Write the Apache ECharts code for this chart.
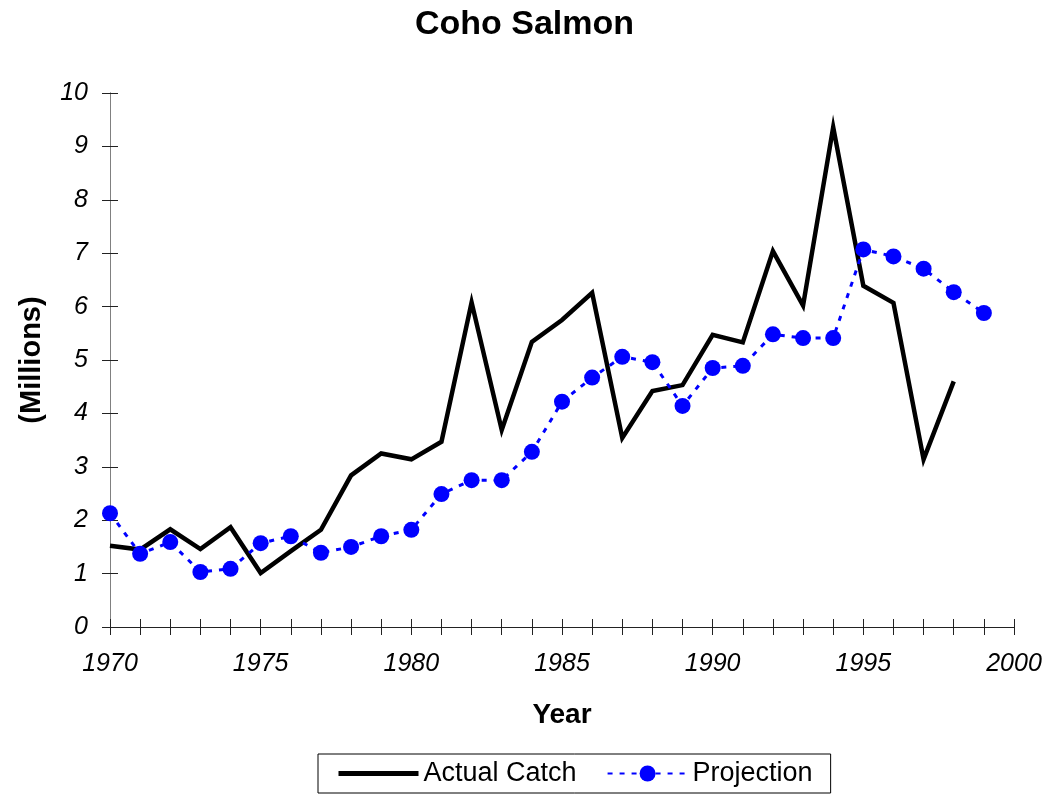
<!DOCTYPE html>
<html>
<head>
<meta charset="utf-8">
<script src="https://cdn.jsdelivr.net/npm/echarts@6/dist/echarts.min.js"></script>
<style>
html,body{margin:0;padding:0;background:#fff;}
#chart{width:1049px;height:799px;}
</style>
</head>
<body>
<div id="chart"></div>
<script>
const actualYears = [1970,1971,1972,1973,1974,1975,1976,1977,1978,1979,1980,1981,1982,1983,1984,1985,1986,1987,1988,1989,1990,1991,1992,1993,1994,1995,1996,1997,1998];
const actualCatch = [1.52,1.45,1.83,1.46,1.87,1.01,1.42,1.82,2.84,3.25,3.14,3.47,6.08,3.69,5.34,5.75,6.26,3.54,4.42,4.53,5.47,5.33,7.04,6.02,9.36,6.39,6.07,3.14,4.60];
const projYears = [1970,1971,1972,1973,1974,1975,1976,1977,1978,1979,1980,1981,1982,1983,1984,1985,1986,1987,1988,1989,1990,1991,1992,1993,1994,1995,1996,1997,1998,1999];
const projection = [2.13,1.37,1.59,1.03,1.09,1.57,1.70,1.39,1.50,1.70,1.82,2.49,2.75,2.75,3.28,4.22,4.67,5.06,4.96,4.14,4.85,4.89,5.48,5.41,5.41,7.07,6.94,6.71,6.27,5.88];
const xLabelYears = [1970,1975,1980,1985,1990,1995,2000];
const titleText = 'Coho Salmon';
const xName = 'Year';
const yName = '(Millions)';
const seriesNames = ['Actual Catch','Projection'];

const FONT = '"Liberation Sans", Arial, sans-serif';
const GRID = {left: 110, right: 35, top: 93, bottom: 172, containLabel: false};
const chart = echarts.init(document.getElementById('chart'), null, {renderer:'canvas'});

function pairs(xs, ys){ return xs.map((x,i)=>[x, ys[i]]); }

const option = {
  animation: false,
  backgroundColor: '#fff',
  title: {
    text: titleText,
    left: 'center',
    top: 3,
    textStyle: {fontFamily: FONT, fontSize: 34, fontWeight: 'bold', color: '#000'}
  },
  legend: {
    left: 318,
    top: 754,
    orient: 'horizontal',
    padding: [6, 18, 6, 18],
    itemGap: 30,
    itemWidth: 80,
    itemHeight: 20,
    borderColor: '#000',
    borderWidth: 1,
    textStyle: {fontFamily: FONT, fontSize: 27, color: '#000'},
    data: [
      {name: seriesNames[0], itemStyle: {opacity: 0}, lineStyle: {width: 5, color: '#000'}},
      {name: seriesNames[1]}
    ]
  },
  grid: [Object.assign({}, GRID), Object.assign({}, GRID)],
  xAxis: [
    {
      gridIndex: 0, type: 'value', min: 1970, max: 2000, interval: 1, position: 'bottom',
      name: xName, nameLocation: 'middle', nameGap: 74,
      nameTextStyle: {fontFamily: FONT, fontSize: 28, fontWeight: 'bold', color: '#000'},
      axisLine: {show: true, onZero: false, lineStyle: {color: '#222', width: 1}},
      axisTick: {show: true, inside: false, length: 8, lineStyle: {color: '#222'}},
      axisLabel: {
        margin: 25, fontFamily: FONT, fontSize: 25, fontStyle: 'italic', color: '#000',
        formatter: v => xLabelYears.indexOf(v) >= 0 ? String(v) : ''
      },
      splitLine: {show: false}
    },
    {
      gridIndex: 1, type: 'value', min: 1970, max: 2000, interval: 1, position: 'bottom',
      axisLine: {show: true, onZero: false, lineStyle: {color: '#222', width: 1}},
      axisTick: {show: true, inside: true, length: 8, lineStyle: {color: '#222'}},
      axisLabel: {show: false},
      splitLine: {show: false}
    }
  ],
  yAxis: [
    {
      gridIndex: 0, type: 'value', min: 0, max: 10, interval: 1, position: 'left',
      name: yName, nameLocation: 'middle', nameGap: 64, nameRotate: 90,
      nameTextStyle: {fontFamily: FONT, fontSize: 29, fontWeight: 'bold', color: '#000'},
      axisLine: {show: true, onZero: false, lineStyle: {color: '#808080', width: 1}},
      axisTick: {show: true, inside: false, length: 8, lineStyle: {color: '#222'}},
      axisLabel: {margin: 22, fontFamily: FONT, fontSize: 25, fontStyle: 'italic', color: '#000'},
      splitLine: {show: false}
    },
    {
      gridIndex: 1, type: 'value', min: 0, max: 10, interval: 1, position: 'left',
      axisLine: {show: true, onZero: false, lineStyle: {color: '#808080', width: 1}},
      axisTick: {show: true, inside: true, length: 8, lineStyle: {color: '#222'}},
      axisLabel: {show: false},
      splitLine: {show: false}
    }
  ],
  series: [
    {
      name: seriesNames[0], type: 'line', xAxisIndex: 0, yAxisIndex: 0,
      data: pairs(actualYears, actualCatch),
      showSymbol: false, symbol: 'none',
      lineStyle: {color: '#000', width: 4.5, join: 'miter'},
      itemStyle: {color: '#000'},
      z: 2
    },
    {
      name: seriesNames[1], type: 'line', xAxisIndex: 0, yAxisIndex: 0,
      data: pairs(projYears, projection),
      symbol: 'circle', symbolSize: 16,
      lineStyle: {color: '#0000ff', width: 3, type: [5, 7]},
      itemStyle: {color: '#0000ff'},
      z: 3
    },
    {
      name: '_ticks', type: 'line', xAxisIndex: 1, yAxisIndex: 1,
      data: [], silent: true, showSymbol: false
    }
  ]
};
chart.setOption(option);
</script>
</body>
</html>
